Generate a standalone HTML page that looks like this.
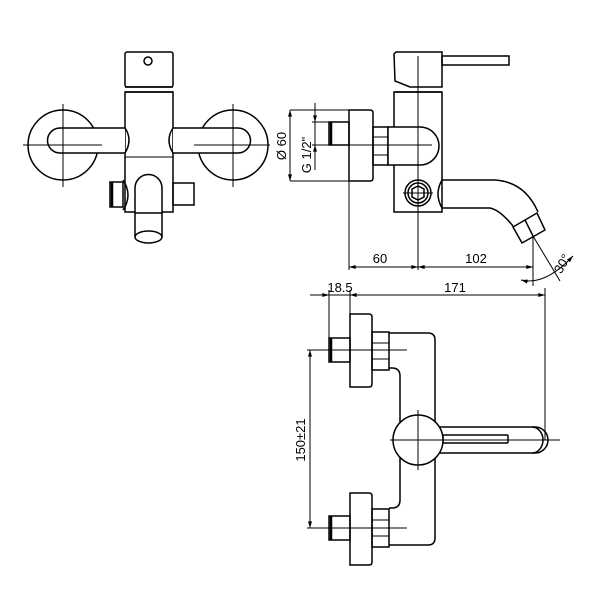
<!DOCTYPE html>
<html><head><meta charset="utf-8"><style>
html,body{margin:0;padding:0;background:#fff;}
svg{display:block}
text{font-family:"Liberation Sans",sans-serif;font-size:13px;fill:#000}
</style></head><body>
<svg width="600" height="600" viewBox="0 0 600 600" xmlns="http://www.w3.org/2000/svg">
<defs>
<marker id="a" viewBox="0 0 10 6" refX="10" refY="3" markerWidth="8" markerHeight="4" orient="auto-start-reverse"><path d="M0,0 L10,3 L0,6 z" fill="#000"/></marker>
</defs>
<g fill="none" stroke="#000" stroke-width="1.5">
<rect x="125" y="52" width="48" height="35" rx="2"/>
<circle cx="148" cy="61" r="4"/>
<line x1="125" y1="87" x2="173" y2="87"/>
<line x1="125" y1="92" x2="173" y2="92"/>
<rect x="125" y="92" width="48" height="120"/>
<line x1="125" y1="157" x2="173" y2="157" stroke-width="1"/>
<circle cx="63" cy="145" r="35" fill="#fff"/>
<circle cx="233" cy="145" r="35" fill="#fff"/>
<path d="M125,128 L60,128 A12.5,12.5 0 0 0 60,153 L125,153" fill="#fff"/>
<path d="M173,128 L238,128 A12.5,12.5 0 0 1 238,153 L173,153" fill="#fff"/>
<path d="M125,128 Q133,140 125,153"/>
<path d="M173,128 Q165,140 173,153"/>
<line x1="23" y1="145" x2="102" y2="145" stroke-width="1"/>
<line x1="194" y1="145" x2="270" y2="145" stroke-width="1"/>
<line x1="63" y1="104" x2="63" y2="187" stroke-width="1"/>
<line x1="233" y1="104" x2="233" y2="187" stroke-width="1"/>
<rect x="110" y="182" width="13" height="25"/>
<line x1="112" y1="182" x2="112" y2="207" stroke-width="2.5"/>
<path d="M123,180 Q133,195 123,210"/>
<rect x="173" y="183" width="21" height="22"/>
<path d="M135,237 L135,188 A13.5,13.5 0 0 1 162,188 L162,237" fill="#fff"/>
<line x1="135" y1="213" x2="162" y2="213"/>
<ellipse cx="148.5" cy="237" rx="13.5" ry="6"/>
<path d="M396,52 L442,52 L442,87 L410,87 L395,81 L394,54 Z"/>
<rect x="442" y="56" width="67" height="9"/>
<line x1="395" y1="92" x2="442" y2="92"/>
<rect x="394" y="92" width="48" height="120"/>
<path d="M349,110 L370,110 Q373,110 373,113 L373,178 Q373,181 370,181 L349,181 Z"/>
<rect x="329" y="122" width="20" height="23"/>
<line x1="331" y1="122" x2="331" y2="145" stroke-width="2.5"/>
<rect x="373" y="127" width="15" height="38"/>
<line x1="373" y1="137" x2="388" y2="137" stroke-width="1"/>
<line x1="373" y1="155" x2="388" y2="155" stroke-width="1"/>
<path d="M388,127 L420,127 A19,19 0 0 1 420,165 L388,165 Z" fill="#fff"/>
<circle cx="418" cy="193" r="13"/>
<circle cx="418" cy="193" r="10"/>
<polygon points="412,189 418,186 424,189 424,197 418,200 412,197"/>
<path d="M442,180 L495,180 Q525,182 538,212"/>
<path d="M442,208 L490,208 Q500,210 513,226"/>
<path d="M442,180 Q434,194 442,208"/>
<polygon points="513,227 537,213 545,230 522,243"/>
<line x1="525" y1="220" x2="533" y2="236"/>
<g stroke-width="1">
<line x1="418" y1="56" x2="418" y2="270"/>
<line x1="330" y1="145" x2="432" y2="145"/>
<line x1="403" y1="193" x2="433" y2="193"/>
<line x1="290" y1="110" x2="349" y2="110"/>
<line x1="290" y1="181" x2="349" y2="181"/>
<line x1="290" y1="110" x2="290" y2="181" marker-start="url(#a)" marker-end="url(#a)"/>
<line x1="312" y1="122" x2="349" y2="122"/>
<line x1="312" y1="145" x2="340" y2="145"/>
<line x1="315" y1="103" x2="315" y2="122" marker-end="url(#a)"/>
<line x1="315" y1="170" x2="315" y2="145" marker-end="url(#a)"/>
<line x1="315" y1="122" x2="315" y2="145"/>
<line x1="349" y1="181" x2="349" y2="270"/>
<line x1="533" y1="236" x2="533" y2="286"/>
<line x1="349" y1="267" x2="418" y2="267" marker-start="url(#a)" marker-end="url(#a)"/>
<line x1="418" y1="267" x2="533" y2="267" marker-start="url(#a)" marker-end="url(#a)"/>
<line x1="533" y1="236" x2="560" y2="281"/>
<path d="M521,280 Q545,286 573,256" marker-start="url(#a)" marker-end="url(#a)"/>
</g>
<path d="M350,314 L369,314 Q372,314 372,317 L372,384 Q372,387 369,387 L350,387 Z"/>
<rect x="329" y="338" width="21" height="24"/>
<line x1="331" y1="338" x2="331" y2="362" stroke-width="2.5"/>
<rect x="372" y="332" width="17" height="38"/>
<line x1="372" y1="343" x2="389" y2="343" stroke-width="1"/>
<line x1="372" y1="359" x2="389" y2="359" stroke-width="1"/>
<path d="M350,493 L369,493 Q372,493 372,496 L372,562 Q372,565 369,565 L350,565 Z"/>
<rect x="329" y="516" width="21" height="24"/>
<line x1="331" y1="516" x2="331" y2="540" stroke-width="2.5"/>
<rect x="372" y="509" width="17" height="38"/>
<line x1="372" y1="520" x2="389" y2="520" stroke-width="1"/>
<line x1="372" y1="536" x2="389" y2="536" stroke-width="1"/>
<path d="M389,333 L428,333 Q435,333 435,340 L435,538 Q435,545 428,545 L389,545"/>
<path d="M389,368 L392,368 Q400,368 400,376 L400,500 Q400,508 392,508 L389,508"/>
<path d="M440,427 L535,427 A13,13 0 0 1 535,453 L440,453" fill="#fff"/>
<path d="M532,427 A11,13 0 0 1 532,453"/>
<rect x="443" y="435" width="65" height="8" rx="1"/>
<circle cx="418" cy="440" r="25" fill="#fff"/>
<g stroke-width="1">
<line x1="390" y1="440" x2="560" y2="440"/>
<line x1="418" y1="410" x2="418" y2="470"/>
<line x1="307" y1="350" x2="407" y2="350"/>
<line x1="307" y1="528" x2="407" y2="528"/>
<line x1="310" y1="350" x2="310" y2="528" marker-start="url(#a)" marker-end="url(#a)"/>
<line x1="329" y1="290" x2="329" y2="338"/>
<line x1="350" y1="290" x2="350" y2="314"/>
<line x1="545" y1="288" x2="545" y2="440"/>
<line x1="310" y1="295" x2="329" y2="295" marker-end="url(#a)"/>
<line x1="350" y1="295" x2="545" y2="295" marker-start="url(#a)" marker-end="url(#a)"/>
<line x1="329" y1="295" x2="350" y2="295"/>
</g>
</g>
<g>
<text x="286" y="146" text-anchor="middle" transform="rotate(-90 286 146)">Ø 60</text>
<text x="311" y="155" text-anchor="middle" transform="rotate(-90 311 155)">G 1/2"</text>
<text x="380" y="263" text-anchor="middle">60</text>
<text x="476" y="263" text-anchor="middle">102</text>
<text x="566" y="266" text-anchor="middle" transform="rotate(-60 566 266)">30°</text>
<text x="340" y="292" text-anchor="middle">18.5</text>
<text x="455" y="292" text-anchor="middle">171</text>
<text x="305" y="440" text-anchor="middle" transform="rotate(-90 305 440)">150±21</text>
</g>
</svg>
</body></html>
